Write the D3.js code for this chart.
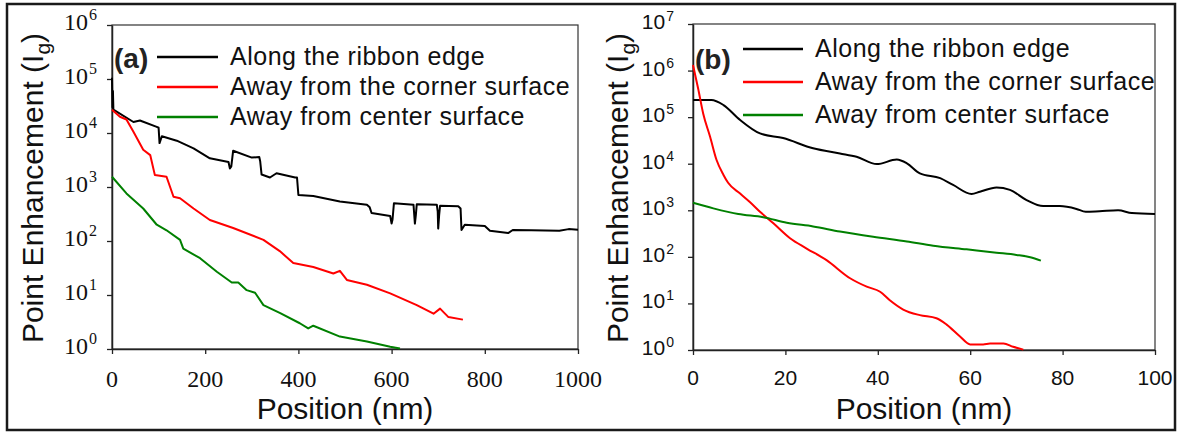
<!DOCTYPE html>
<html><head><meta charset="utf-8">
<script src="https://cdn.jsdelivr.net/npm/d3@7"></script>
<style>
html,body{margin:0;padding:0;background:#fff;}
svg{display:block;}
</style></head>
<body>
<svg id="chart" width="1183" height="433"></svg>
<script>
// ---------- data ----------
const seriesNames = ["Along the ribbon edge", "Away from the corner surface", "Away from center surface"];
const seriesColors = ["#000000", "#ff0000", "#008000"];

// Panel (a): position (nm) vs point enhancement
const edgeA = [[0,105000],[1,30000],[2,60000],[3,27000],[46,16000],[60,17000],[96,13000],[100,12500],[102,6500],[107,8700],[139,7200],[175,5200],[210,3400],[242,3000],[250,2900],[253,2200],[256,2400],[260,4700],[300,3500],[316,3600],[318,3000],[321,1700],[339,1500],[353,1800],[393,1500],[397,1500],[400,710],[432,680],[489,540],[547,470],[553,420],[557,330],[597,290],[600,210],[602,250],[605,500],[647,470],[650,210],[652,300],[654,480],[697,470],[699,350],[700,170],[702,300],[704,450],[743,440],[748,400],[750,160],[757,200],[800,190],[811,155],[850,140],[860,160],[900,158],[960,155],[980,166],[1000,162]];
const cornerA = [[0,27000],[17,20000],[31,17800],[46,10500],[67,4900],[82,3900],[92,1660],[117,1550],[132,660],[146,620],[175,400],[210,245],[260,174],[325,105],[360,65],[389,39],[432,33],[475,25],[489,28],[504,19],[547,15.5],[597,10.7],[654,6.5],[690,4.5],[704,5.6],[722,3.9],[753,3.5]];
const centerA = [[0,1550],[31,760],[67,400],[96,200],[117,158],[146,105],[153,72],[189,48],[225,27],[257,17],[271,17],[289,12.3],[307,11],[325,6.5],[361,4.6],[403,3.0],[421,2.4],[432,2.7],[489,1.7],[547,1.38],[597,1.1],[618,1.02]];

// Panel (b)
const edgeB = [[0,234000],[4,234000],[6.6,182000],[10.2,87000],[14.5,44700],[19.5,35500],[26,21400],[31.8,16600],[35.4,14100],[39.8,9800],[44.1,12300],[46.3,10200],[49.1,6200],[53.5,4900],[56.3,3500],[60.3,2240],[62.1,2500],[65.7,3100],[68.6,2750],[72.2,1660],[75.8,1230],[79.4,1230],[83,1070],[85,930],[88,955],[92,1000],[95,870],[100,830]];
const cornerB = [[0,1320000],[1.1,417000],[2.2,120000],[3.7,38000],[5.1,12000],[6.6,5750],[7.6,3900],[10.2,2290],[12.3,1510],[14.5,930],[17.4,525],[21,251],[24.6,151],[28.9,85],[34,34.7],[37.6,22.9],[40.5,17.8],[42.6,11.7],[45.5,7.4],[49.1,5.6],[52.7,4.8],[54.9,3.5],[57.8,1.95],[60,1.32],[62.8,1.32],[64.3,1.38],[67.2,1.38],[69.3,1.17],[71.5,1.02]];
const centerB = [[0,1450],[4.4,1100],[9.8,830],[15.2,710],[20.3,540],[26,450],[31.8,350],[39,270],[46.3,214],[52,174],[59.2,145],[65.7,123],[70,110],[73,98],[75.3,83]];

const xTicksA = [0,200,400,600,800,1000];
const yTicksA = [1,10,100,1000,10000,100000,1000000];
const xTicksB = [0,20,40,60,80,100];
const yTicksB = [1,10,100,1000,10000,100000,1000000,10000000];

const panelLabels = ["(a)", "(b)"];
const xTitle = "Position (nm)";
const yTitleMain = "Point Enhancement (I";
const yTitleSub = "g";

// ---------- layout ----------
const svg = d3.select("#chart");
svg.append("rect").attr("x",7).attr("y",4).attr("width",1168).attr("height",426)
  .attr("fill","none").attr("stroke","#1a1a1a").attr("stroke-width",2.5);

const panels = [
  {series:[edgeA,cornerA,centerA], xDom:[0,1000], yDom:[1,1e6], xr:[112,578], yr:[349,25],
   xTicks:xTicksA, yTicks:yTicksA, tickFont:"'Liberation Serif','Times New Roman',serif", tickSize:24, supSize:16, supDy:-10,
   yLabX:97, xLabY:387, titleX:43, label:panelLabels[0], labelX:114, labelY:68,
   legLine:[157,218], legTextX:230, legY:[57,87,117], curve:d3.curveLinear},
  {series:[edgeB,cornerB,centerB], xDom:[0,100], yDom:[1,1e7], xr:[693,1155], yr:[350,24],
   xTicks:xTicksB, yTicks:yTicksB, tickFont:"'Liberation Sans',Arial,sans-serif", tickSize:21, supSize:14, supDy:-8,
   yLabX:674, xLabY:385, titleX:628, label:panelLabels[1], labelX:695, labelY:69,
   legLine:[743,803], legTextX:815, legY:[49,82,115], curve:d3.curveMonotoneX}
];

panels.forEach(p => {
  const x = d3.scaleLinear().domain(p.xDom).range(p.xr);
  const y = d3.scaleLog().domain(p.yDom).range(p.yr);
  const g = svg.append("g");

  // box
  g.append("rect").attr("x",p.xr[0]).attr("y",p.yr[1]).attr("width",p.xr[1]-p.xr[0]).attr("height",p.yr[0]-p.yr[1])
    .attr("fill","none").attr("stroke","#333").attr("stroke-width",1.2);

  // axes
  const ax = g.append("g").attr("transform",`translate(0,${p.yr[0]})`)
    .call(d3.axisBottom(x).tickValues(p.xTicks).tickSize(5).tickSizeOuter(0).tickFormat(""));
  const ay = g.append("g").attr("transform",`translate(${p.xr[0]},0)`)
    .call(d3.axisLeft(y).tickValues(p.yTicks).tickSize(5).tickSizeOuter(0).tickFormat(""));
  [ax,ay].forEach(a => {
    a.selectAll("path.domain").attr("stroke","#222").attr("stroke-width",1.5);
    a.selectAll(".tick line").attr("stroke","#222").attr("stroke-width",1.3);
  });

  // x tick labels
  g.selectAll(".xl").data(p.xTicks).enter().append("text")
    .attr("x",d=>x(d)).attr("y",p.xLabY).attr("text-anchor","middle")
    .attr("font-family",p.tickFont).attr("font-size",p.tickSize).attr("fill","#111")
    .text(d=>d);

  // y tick labels 10^n
  p.yTicks.forEach(t => {
    const txt = g.append("text").attr("x",p.yLabX).attr("y",y(t)+5).attr("text-anchor","end")
      .attr("font-family",p.tickFont).attr("font-size",p.tickSize).attr("fill","#111");
    txt.append("tspan").text("10");
    txt.append("tspan").attr("dy",p.supDy).attr("dx",1).attr("font-size",p.supSize).text(Math.round(Math.log10(t)));
  });

  // lines
  const line = d3.line().x(d=>x(d[0])).y(d=>y(d[1])).curve(p.curve);
  p.series.forEach((s,i) => {
    g.append("path").datum(s).attr("d",line).attr("fill","none")
      .attr("stroke",seriesColors[i]).attr("stroke-width",2).attr("stroke-linejoin","round");
  });

  // titles
  g.append("text").attr("x",(p.xr[0]+p.xr[1])/2).attr("y",419).attr("text-anchor","middle")
    .attr("font-family","'Liberation Sans',Arial,sans-serif").attr("font-size",30).attr("fill","#111").text(xTitle);
  const yt = g.append("text").attr("transform",`translate(${p.titleX},${(p.yr[0]+p.yr[1])/2+1}) rotate(-90)`)
    .attr("text-anchor","middle").attr("font-family","'Liberation Sans',Arial,sans-serif").attr("font-size",30).attr("fill","#111");
  yt.append("tspan").text(yTitleMain);
  yt.append("tspan").attr("dy",7).attr("font-size",21).text(yTitleSub);
  yt.append("tspan").attr("dy",-7).text(")");

  // panel label
  g.append("text").attr("x",p.labelX).attr("y",p.labelY).attr("font-family","'Liberation Sans',Arial,sans-serif")
    .attr("font-weight","bold").attr("font-size",28).attr("fill","#222").text(p.label);

  // legend
  seriesNames.forEach((n,i) => {
    g.append("line").attr("x1",p.legLine[0]).attr("x2",p.legLine[1]).attr("y1",p.legY[i]).attr("y2",p.legY[i])
      .attr("stroke",seriesColors[i]).attr("stroke-width",2.5);
    g.append("text").attr("x",p.legTextX).attr("y",p.legY[i]+8).attr("font-family","'Liberation Sans',Arial,sans-serif")
      .attr("font-size",25).attr("letter-spacing",0.5).attr("fill","#111").text(n);
  });
});
</script>
</body></html>
